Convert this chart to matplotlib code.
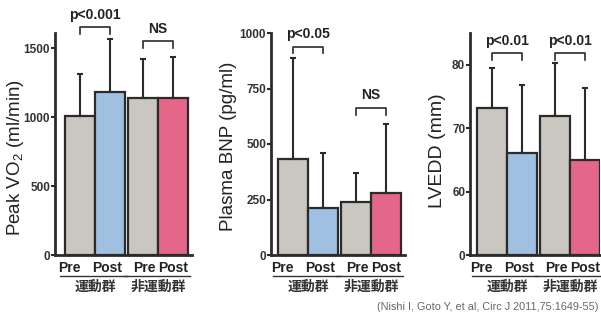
import matplotlib
matplotlib.use('Agg')
import matplotlib.pyplot as plt
import numpy as np

plt.rcParams['font.family'] = ['Liberation Sans', 'Noto Sans CJK JP', 'DejaVu Sans']
plt.rcParams['mathtext.default'] = 'regular'

# bar labels and groups
phases = ['Pre', 'Post', 'Pre', 'Post']
groups = ['運動群', '非運動群']

# means and upper SD for each panel (運動群 Pre/Post, 非運動群 Pre/Post)
vo2_mean = [1005, 1180, 1135, 1140]
vo2_sd = [307, 390, 290, 297]
bnp_mean = [431, 213, 237, 281]
bnp_sd = [455, 245, 131, 308]
lvedd_mean = [73.2, 66.1, 71.9, 65.0]
lvedd_sd = [6.3, 10.7, 8.4, 11.3]

# significance labels for each group comparison
vo2_sig = ['p<0.001', 'NS']
bnp_sig = ['p<0.05', 'NS']
lvedd_sig = ['p<0.01', 'p<0.01']

colors = ['#c9c7bf', '#9fc0e0', '#c9c7bf', '#e4678a']
edge = '#2b2b2b'
pos = np.array([0, 1, 2.1, 3.1])

W, H = 601, 321
fig = plt.figure(figsize=(W / 100, H / 100), dpi=100)


def make_axes(left, right, top=33, bottom=255):
    return fig.add_axes([left / W, (H - bottom) / H, (right - left) / W, (bottom - top) / H])


def draw_panel(ax, mean, sd, ymin, ymax, ticks, ticklabels, ylabel, label_xy,
               sig, sig_y, xlim, label_size=14):
    heights = np.array(mean) - ymin
    ax.bar(pos, heights, width=1.0, bottom=ymin, color=colors, edgecolor=edge,
           linewidth=1.6, zorder=2)
    ax.errorbar(pos, mean, yerr=[np.zeros(4), sd], fmt='none', ecolor=edge,
                elinewidth=1.5, capsize=2.2, capthick=1.5, zorder=3, clip_on=False)
    ax.set_ylim(ymin, ymax)
    ax.set_xlim(*xlim)
    ax.set_yticks(ticks)
    ax.set_yticklabels(ticklabels, fontsize=8.5, fontweight='bold', color='#333333')
    ax.tick_params(axis='y', direction='out', length=3, width=1.5, pad=0.5, color=edge)
    ax.tick_params(axis='x', length=0, pad=4)
    ax.set_xticks(pos + np.array([-0.35, -0.1, 0.05, 0.0]))
    ax.set_xticklabels(phases, fontsize=10, fontweight='bold', color='#222222')
    for s in ['top', 'right']:
        ax.spines[s].set_visible(False)
    for s in ['left', 'bottom']:
        ax.spines[s].set_linewidth(2)
        ax.spines[s].set_color(edge)
    ax.text(label_xy[0], label_xy[1], ylabel, transform=ax.transAxes, rotation=90,
            ha='center', va='center', fontsize=label_size, color='#222222')

    # brackets between Pre and Post of each group
    span = ymax - ymin
    for g, (lab, yb) in enumerate(zip(sig, sig_y)):
        x0, x1 = pos[2 * g], pos[2 * g + 1]
        leg = 0.03 * span
        ax.plot([x0, x0, x1, x1], [yb - leg, yb, yb, yb - leg], color=edge,
                lw=1.2, clip_on=False, zorder=4)
        ax.text((x0 + x1) / 2, yb + 0.025 * span, lab, ha='center', va='bottom',
                fontsize=10, fontweight='bold', color='#222222')

    # underline and group name below the Pre/Post labels
    trans = ax.get_xaxis_transform()
    for g, name in enumerate(groups):
        x0 = pos[2 * g]
        ax.plot([x0 - 0.65, x0 + 1.55], [-0.095, -0.095], transform=trans,
                color='#333333', lw=1.0, clip_on=False)
        ax.text(x0 + 0.5, -0.145, name, transform=trans, ha='center', va='center',
                fontsize=10, fontweight='bold', color='#333333')


ax1 = make_axes(55, 192)
draw_panel(ax1, vo2_mean, vo2_sd, 0, 1610, [0, 500, 1000, 1500],
           ['0', '500', '1000', '1500'], 'Peak VO$_2$ (ml/min)', (-0.29, 0.44),
           vo2_sig, [1650, 1550], (-0.83, 3.73), label_size=13.5)

ax2 = make_axes(271, 405)
draw_panel(ax2, bnp_mean, bnp_sd, 0, 1000, [0, 250, 500, 750, 1000],
           ['0', '250', '500', '750', '1000'], 'Plasma BNP (pg/ml)', (-0.32, 0.49),
           bnp_sig, [938, 662], (-0.73, 3.73), label_size=13.5)

ax3 = make_axes(470, 600)
draw_panel(ax3, lvedd_mean, lvedd_sd, 50, 85, [50, 60, 70, 80],
           ['0', '60', '70', '80'], 'LVEDD (mm)', (-0.25, 0.47),
           lvedd_sig, [81.8, 81.8], (-0.73, 3.6))

fig.text(598 / W, 1 - 307 / H, '(Nishi I, Goto Y, et al, Circ J 2011,75:1649-55)',
         ha='right', va='center', fontsize=7.8, color='#666666')

fig.savefig('out.png', dpi=100)
